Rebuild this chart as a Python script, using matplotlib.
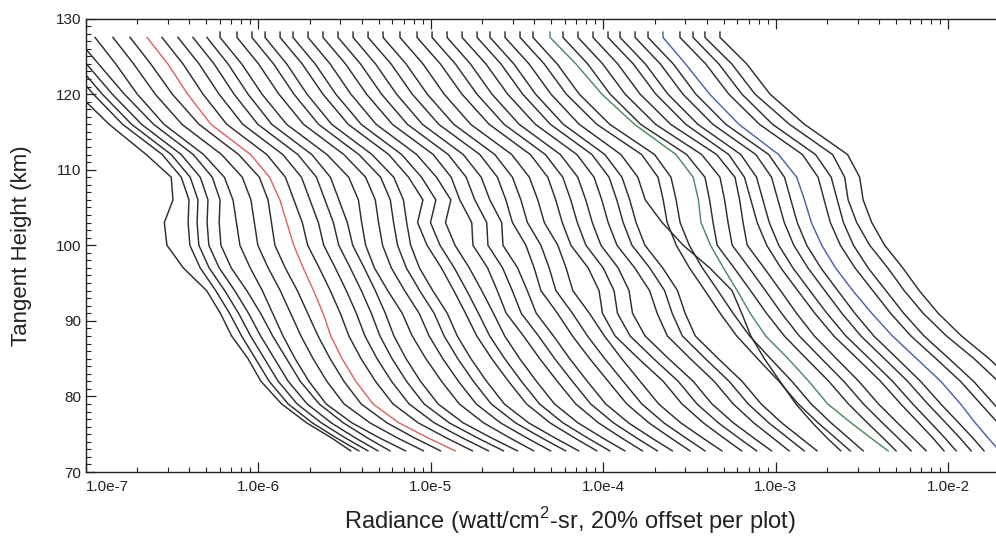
import matplotlib
matplotlib.use('Agg')
import matplotlib.pyplot as plt
import matplotlib.ticker as mticker
import numpy as np

plt.rcParams['font.family'] = ['Liberation Sans', 'DejaVu Sans']
plt.rcParams['mathtext.fontset'] = 'custom'
plt.rcParams['mathtext.rm'] = 'Liberation Sans'

# tangent heights (km) where each profile was read
heights = [127.5, 124, 120, 116, 112, 109, 106, 103, 100, 97, 94, 91, 88, 85, 82, 79, 76.5, 74.5, 72.8]
hook_height = 128.2
hook_from = 13

# log10 radiance of each plot at the top height (offsets included)
top_log = [-7.293, -7.235, -7.183, -7.125, -7.055, -6.945, -6.841, -6.742, -6.643, -6.557,
           -6.464, -6.377, -6.296, -6.220, -6.122, -6.035, -5.959, -5.872, -5.797, -5.710,
           -5.623, -5.536, -5.449, -5.362, -5.275, -5.177, -5.078, -4.991, -4.904, -4.817,
           -4.730, -4.655, -4.568, -4.481, -4.406, -4.307, -4.232, -4.145, -4.058, -3.971,
           -3.901, -3.814, -3.739, -3.652, -3.554, -3.478, -3.409, -3.322]

# profile shapes: log10 radiance relative to the top value
p_first = [0, 0.12, 0.25, 0.43, 0.645, 0.79, 0.80, 0.75, 0.765, 0.86, 0.995, 1.075, 1.14, 1.235, 1.31, 1.43, 1.575, 1.72, 1.83]
p_left = [0, 0.13, 0.28, 0.45, 0.68, 0.79, 0.835, 0.83, 0.84, 0.90, 0.99, 1.07, 1.14, 1.22, 1.30, 1.41, 1.55, 1.69, 1.82]
p_mid = [0, 0.12, 0.245, 0.40, 0.63, 0.75, 0.80, 0.82, 0.84, 0.90, 0.97, 1.03, 1.09, 1.16, 1.24, 1.34, 1.49, 1.65, 1.80]
p_red = [0, 0.12, 0.235, 0.37, 0.60, 0.71, 0.77, 0.81, 0.85, 0.905, 0.965, 1.02, 1.065, 1.13, 1.21, 1.31, 1.46, 1.63, 1.786]
p_e = [0, 0.122, 0.238, 0.376, 0.608, 0.716, 0.765, 0.814, 0.845, 0.912, 0.976, 1.034, 1.084, 1.154, 1.238, 1.34, 1.486, 1.65, 1.80]
p_f = [0, 0.125, 0.243, 0.386, 0.62, 0.746, 0.802, 0.821, 0.844, 0.895, 0.972, 1.056, 1.114, 1.193, 1.284, 1.387, 1.528, 1.681, 1.818]
p_g = [0, 0.128, 0.248, 0.395, 0.63, 0.745, 0.828, 0.797, 0.852, 0.935, 1.007, 1.075, 1.14, 1.227, 1.324, 1.429, 1.565, 1.708, 1.836]
p_h = [0, 0.13, 0.252, 0.402, 0.639, 0.743, 0.793, 0.862, 0.869, 0.954, 1.01, 1.062, 1.162, 1.256, 1.358, 1.465, 1.597, 1.731, 1.851]
p_i = [0, 0.133, 0.256, 0.41, 0.648, 0.75, 0.799, 0.837, 0.915, 0.963, 1.002, 1.098, 1.185, 1.285, 1.392, 1.5, 1.628, 1.755, 1.866]
p_j = [0, 0.135, 0.26, 0.418, 0.657, 0.758, 0.804, 0.842, 0.892, 0.992, 1.055, 1.075, 1.148, 1.284, 1.427, 1.536, 1.66, 1.778, 1.881]
p_k = [0, 0.138, 0.264, 0.425, 0.666, 0.765, 0.81, 0.847, 0.898, 1.001, 1.087, 1.131, 1.19, 1.323, 1.461, 1.572, 1.691, 1.802, 1.896]
p_cross = [0, 0.139, 0.266, 0.43, 0.672, 0.77, 0.813, 0.911, 1.033, 1.187, 1.316, 1.372, 1.425, 1.503, 1.594, 1.686, 1.782, 1.867, 1.946]
p_l = [0, 0.14, 0.268, 0.445, 0.705, 0.80, 0.83, 0.853, 0.906, 0.982, 1.072, 1.16, 1.256, 1.377, 1.501, 1.613, 1.728, 1.829, 1.914]
p_green = [0, 0.15, 0.30, 0.49, 0.73, 0.83, 0.86, 0.875, 0.93, 1.005, 1.085, 1.16, 1.25, 1.38, 1.50, 1.61, 1.745, 1.86, 1.96]
p_m = [0, 0.143, 0.273, 0.45, 0.717, 0.823, 0.85, 0.87, 0.894, 0.992, 1.087, 1.18, 1.283, 1.411, 1.541, 1.655, 1.765, 1.856, 1.931]
p_n = [0, 0.146, 0.277, 0.451, 0.70, 0.791, 0.828, 0.865, 0.92, 1.002, 1.10, 1.199, 1.309, 1.445, 1.58, 1.697, 1.801, 1.883, 1.948]
p_blue = [0, 0.13, 0.27, 0.44, 0.67, 0.775, 0.82, 0.86, 0.92, 1.00, 1.10, 1.21, 1.33, 1.47, 1.61, 1.725, 1.81, 1.885, 1.95]
p_q = [0, 0.149, 0.283, 0.461, 0.71, 0.801, 0.836, 0.872, 0.93, 1.015, 1.118, 1.221, 1.339, 1.484, 1.626, 1.744, 1.843, 1.915, 1.969]
p_last = [0, 0.155, 0.29, 0.49, 0.74, 0.81, 0.83, 0.88, 0.955, 1.06, 1.155, 1.265, 1.40, 1.56, 1.70, 1.81, 1.90, 1.97, 2.03]

curve_profile = ([p_first] + [p_left] * 4 + [p_mid] * 3 + [p_red] + [p_e] * 4 + [p_f] * 4
                 + [p_g] * 3 + [p_h] * 3 + [p_i] * 3 + [p_j] * 3 + [p_k] * 3 + [p_cross]
                 + [p_l] * 2 + [p_green] + [p_m] * 3 + [p_n] * 4 + [p_blue] + [p_q] * 2 + [p_last] * 2)

highlight = {8: '#e06464', 35: '#4f8a62', 43: '#4d63a8'}

xtick_vals = [1e-7, 1e-6, 1e-5, 1e-4, 1e-3, 1e-2]
xtick_labels = ['1.0e-7', '1.0e-6', '1.0e-5', '1.0e-4', '1.0e-3', '1.0e-2']
ytick_vals = [70, 80, 90, 100, 110, 120, 130]

fig = plt.figure(figsize=(9.96, 5.5), dpi=100)
# axes run past the right edge of the (cropped) figure
ax = fig.add_axes([85.5 / 996, 78 / 550, (1055 - 85.5) / 996, 453.5 / 550])

for i, (top, prof) in enumerate(zip(top_log, curve_profile)):
    logs = [top + r for r in prof]
    hs = list(heights)
    if i >= hook_from:
        logs = [top] + logs
        hs = [hook_height] + hs
    color = highlight.get(i, '#2e2e2e')
    ax.plot(10 ** np.array(logs), hs, color=color, lw=1.05,
            zorder=3 if i in highlight else 2)

ax.set_xscale('log')
ax.set_xlim(1e-7, 10 ** (-7 + (1055 - 85.5) / 172.5))
ax.set_ylim(70, 130)

ax.xaxis.set_major_locator(mticker.FixedLocator(xtick_vals))
ax.xaxis.set_major_formatter(mticker.FixedFormatter(xtick_labels))
ax.xaxis.set_minor_locator(mticker.LogLocator(base=10, subs=np.arange(2, 10)))
ax.xaxis.set_minor_formatter(mticker.NullFormatter())
ax.set_yticks(ytick_vals)
ax.yaxis.set_minor_locator(mticker.MultipleLocator(1))

ax.tick_params(which='both', direction='in', top=True, right=False, labelsize=11, colors='#222222')
ax.tick_params(which='major', length=7, width=0.9)
ax.tick_params(which='minor', length=3.5, width=0.8)
ax.tick_params(axis='x', pad=6)
ax.tick_params(axis='y', pad=3)
ax.xaxis.get_majorticklabels()[0].set_horizontalalignment('left')

for side in ['left', 'bottom', 'top']:
    ax.spines[side].set_linewidth(1.0)
    ax.spines[side].set_color('#222222')
ax.spines['right'].set_visible(False)

fig.text(570 / 996, 1 - 521 / 550, r'Radiance (watt/cm$^\mathrm{2}$-sr, 20% offset per plot)',
         ha='center', va='center', fontsize=17, color='#222222')
fig.text(22 / 996, 1 - 246 / 550, 'Tangent Height (km)', rotation=90,
         ha='center', va='center', fontsize=16, color='#222222')

fig.savefig('out.png', dpi=100)
